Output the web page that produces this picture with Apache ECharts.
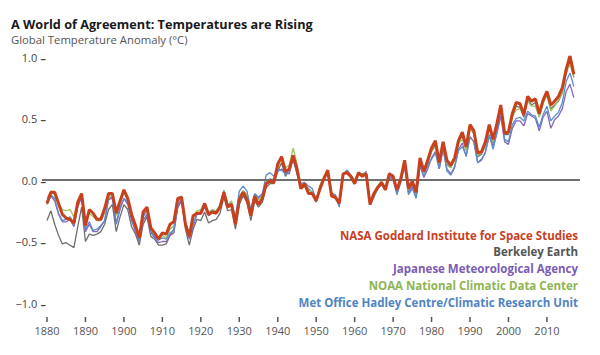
<!DOCTYPE html>
<html><head><meta charset="utf-8">
<script src="https://cdn.jsdelivr.net/npm/echarts@6/dist/echarts.min.js"></script>
<style>html,body{margin:0;padding:0;background:#fff}#c{width:600px;height:355px}</style>
</head><body><div id="c"></div>
<script>
var years = [];
for (var y = 1880; y <= 2017; y++) years.push(y);

var xTickLabels = [1880,1890,1900,1910,1920,1930,1940,1950,1960,1970,1980,1990,2000,2010];
var yTickLabels = [-1.0,-0.5,0.0,0.5,1.0];

var seriesNames = [
  "NASA Goddard Institute for Space Studies",
  "Berkeley Earth",
  "Japanese Meteorological Agency",
  "NOAA National Climatic Data Center",
  "Met Office Hadley Centre/Climatic Research Unit"
];

var nasa = [
-0.19,-0.10,-0.10,-0.19,-0.28,-0.31,-0.32,-0.35,-0.18,-0.11,
-0.37,-0.24,-0.27,-0.32,-0.32,-0.23,-0.11,-0.11,-0.27,-0.17,
-0.08,-0.15,-0.28,-0.37,-0.47,-0.26,-0.22,-0.39,-0.43,-0.48,
-0.43,-0.44,-0.36,-0.34,-0.15,-0.14,-0.36,-0.46,-0.29,-0.27,
-0.27,-0.19,-0.28,-0.26,-0.27,-0.22,-0.10,-0.22,-0.20,-0.36,
-0.16,-0.10,-0.16,-0.29,-0.13,-0.20,-0.15,-0.03,-0.01,-0.02,
0.13,0.19,0.07,0.09,0.20,0.09,-0.07,-0.03,-0.11,-0.11,
-0.17,-0.07,0.01,0.08,-0.13,-0.14,-0.19,0.05,0.06,0.03,
-0.03,0.06,0.03,0.05,-0.20,-0.11,-0.06,-0.02,-0.08,0.05,
0.03,-0.08,0.01,0.16,-0.07,-0.01,-0.10,0.18,0.07,0.16,
0.26,0.32,0.14,0.31,0.16,0.12,0.18,0.32,0.39,0.27,
0.45,0.40,0.22,0.23,0.31,0.45,0.33,0.46,0.61,0.38,
0.39,0.54,0.63,0.62,0.53,0.68,0.64,0.66,0.54,0.65,
0.72,0.61,0.64,0.68,0.75,0.90,1.01,0.86];

var berkeley = [
-0.33,-0.25,-0.36,-0.45,-0.52,-0.51,-0.53,-0.55,-0.38,-0.22,
-0.50,-0.44,-0.45,-0.44,-0.42,-0.36,-0.24,-0.20,-0.42,-0.30,
-0.20,-0.24,-0.38,-0.44,-0.53,-0.36,-0.30,-0.46,-0.48,-0.53,
-0.53,-0.52,-0.45,-0.40,-0.22,-0.17,-0.40,-0.53,-0.40,-0.32,
-0.33,-0.26,-0.35,-0.33,-0.32,-0.27,-0.14,-0.25,-0.24,-0.40,
-0.20,-0.13,-0.18,-0.33,-0.17,-0.22,-0.18,-0.06,-0.03,-0.03,
0.07,0.14,0.03,0.08,0.17,0.06,-0.07,-0.05,-0.10,-0.12,
-0.18,-0.05,0.01,0.07,-0.12,-0.15,-0.20,0.04,0.07,0.03,
-0.01,0.05,0.05,0.06,-0.19,-0.13,-0.07,-0.02,-0.08,0.04,
0.04,-0.09,0.02,0.15,-0.09,-0.02,-0.11,0.17,0.06,0.14,
0.24,0.28,0.12,0.30,0.13,0.10,0.17,0.31,0.36,0.25,
0.42,0.38,0.19,0.21,0.28,0.43,0.30,0.45,0.60,0.37,
0.37,0.52,0.60,0.59,0.51,0.66,0.61,0.63,0.52,0.63,
0.70,0.58,0.61,0.64,0.71,0.86,0.97,0.84];

var jma = [
-0.20,-0.13,-0.17,-0.28,-0.34,-0.34,-0.32,-0.38,-0.22,-0.14,
-0.42,-0.36,-0.42,-0.42,-0.38,-0.33,-0.16,-0.15,-0.36,-0.24,
-0.15,-0.20,-0.33,-0.42,-0.50,-0.33,-0.28,-0.43,-0.47,-0.51,
-0.50,-0.50,-0.45,-0.43,-0.22,-0.17,-0.36,-0.48,-0.37,-0.28,
-0.28,-0.22,-0.29,-0.26,-0.26,-0.22,-0.11,-0.21,-0.20,-0.32,
-0.14,-0.09,-0.12,-0.26,-0.12,-0.15,-0.13,-0.02,0.01,0.00,
0.07,0.09,0.06,0.05,0.17,0.05,-0.06,-0.04,-0.07,-0.10,
-0.16,-0.06,0.00,0.06,-0.11,-0.13,-0.18,0.04,0.07,0.02,
-0.02,0.05,0.03,0.07,-0.18,-0.12,-0.06,-0.03,-0.07,0.03,
0.01,-0.10,-0.01,0.13,-0.11,-0.05,-0.14,0.12,0.02,0.09,
0.18,0.23,0.09,0.25,0.09,0.05,0.11,0.25,0.30,0.19,
0.35,0.31,0.14,0.16,0.23,0.36,0.27,0.38,0.52,0.31,
0.29,0.42,0.48,0.48,0.44,0.54,0.52,0.50,0.40,0.51,
0.56,0.42,0.49,0.52,0.58,0.72,0.78,0.67];

var noaa = [
-0.15,-0.09,-0.12,-0.20,-0.24,-0.25,-0.24,-0.30,-0.18,-0.12,
-0.35,-0.27,-0.30,-0.33,-0.33,-0.27,-0.13,-0.13,-0.29,-0.19,
-0.10,-0.17,-0.29,-0.39,-0.47,-0.29,-0.24,-0.40,-0.45,-0.48,
-0.45,-0.47,-0.40,-0.37,-0.19,-0.13,-0.34,-0.43,-0.31,-0.25,
-0.24,-0.19,-0.26,-0.24,-0.25,-0.20,-0.08,-0.20,-0.17,-0.32,
-0.13,-0.09,-0.12,-0.26,-0.12,-0.16,-0.13,-0.01,0.00,0.01,
0.10,0.18,0.10,0.12,0.26,0.13,-0.04,-0.03,-0.08,-0.10,
-0.17,-0.04,0.03,0.08,-0.10,-0.13,-0.18,0.05,0.08,0.04,
0.00,0.06,0.04,0.06,-0.18,-0.11,-0.05,-0.01,-0.06,0.06,
0.02,-0.08,0.01,0.14,-0.08,-0.03,-0.11,0.15,0.06,0.13,
0.23,0.27,0.13,0.30,0.12,0.10,0.16,0.30,0.33,0.24,
0.42,0.38,0.20,0.22,0.29,0.42,0.31,0.47,0.61,0.38,
0.38,0.51,0.57,0.58,0.54,0.64,0.60,0.60,0.51,0.62,
0.69,0.56,0.60,0.65,0.71,0.88,0.94,0.83];

var hadcrut = [
-0.19,-0.12,-0.15,-0.27,-0.33,-0.32,-0.30,-0.36,-0.20,-0.12,
-0.40,-0.34,-0.41,-0.40,-0.37,-0.33,-0.15,-0.14,-0.35,-0.22,
-0.15,-0.18,-0.31,-0.40,-0.49,-0.30,-0.25,-0.42,-0.46,-0.49,
-0.47,-0.48,-0.43,-0.41,-0.20,-0.15,-0.35,-0.46,-0.36,-0.27,
-0.26,-0.20,-0.27,-0.25,-0.26,-0.21,-0.09,-0.20,-0.19,-0.30,
-0.09,-0.05,-0.09,-0.24,-0.11,-0.14,-0.11,0.04,0.06,0.03,
0.08,0.08,0.05,0.08,0.19,0.07,-0.03,-0.02,-0.05,-0.07,
-0.16,-0.05,0.02,0.05,-0.11,-0.12,-0.22,0.04,0.08,0.04,
-0.01,0.05,0.03,0.06,-0.20,-0.14,-0.07,-0.04,-0.08,0.02,
0.00,-0.12,-0.02,0.11,-0.12,-0.07,-0.15,0.12,0.03,0.12,
0.17,0.22,0.09,0.26,0.07,0.04,0.10,0.24,0.27,0.20,
0.35,0.31,0.14,0.17,0.22,0.37,0.25,0.39,0.57,0.33,
0.31,0.45,0.50,0.51,0.48,0.56,0.53,0.52,0.43,0.53,
0.60,0.48,0.52,0.55,0.63,0.80,0.87,0.76];

var allData = [nasa, berkeley, jma, noaa, hadcrut];
var lineColors = ['#c9401d', '#6e6e6e', '#8466ba', '#9cc15d', '#5a8dca'];
var textColors = ['#c8401f', '#555555', '#7c5cb4', '#8fb552', '#4f84c2'];
var drawOrder = [1, 2, 3, 4, 0];

function pairs(arr) { return years.map(function (yr, i) { return [yr, arr[i]]; }); }

var series = drawOrder.map(function (k) {
  return {
    name: seriesNames[k],
    type: 'line',
    data: pairs(allData[k]),
    showSymbol: false,
    symbol: 'none',
    z: k === 0 ? 10 : 3,
    lineStyle: { color: lineColors[k], width: k === 0 ? 3 : 1.3 },
    animation: false
  };
});
series.unshift({
  type: 'line', data: [], silent: true, animation: false,
  markLine: {
    symbol: ['none', 'none'], silent: true, label: { show: false },
    lineStyle: { color: '#6f6f6f', width: 2.2, type: 'solid' },
    data: [{ yAxis: 0 }]
  },
  z: 1
});

var legendGraphics = seriesNames.map(function (nm, i) {
  return {
    type: 'text', right: 22, top: 229 + i * 16.9,
    style: { text: nm, fill: textColors[i], font: 'bold 11.5px "Open Sans"', textAlign: 'right' }
  };
});

var chart = echarts.init(document.getElementById('c'), null, { renderer: 'svg' });
chart.setOption({
  backgroundColor: '#fff',
  animation: false,
  title: {
    text: 'A World of Agreement: Temperatures are Rising',
    subtext: 'Global Temperature Anomaly (°C)',
    left: 6, top: 12, itemGap: 4,
    textStyle: { fontFamily: 'Open Sans', fontSize: 12.7, fontWeight: 'bold', color: '#1a1a1a' },
    subtextStyle: { fontFamily: 'Open Sans', fontSize: 11.3, color: '#555' }
  },
  graphic: legendGraphics,
  grid: { left: 42, right: 20, top: 57, bottom: 52 },
  xAxis: {
    type: 'value', min: 1878.7, max: 2018.6,
    offset: 13,
    axisLine: { show: false },
    splitLine: { show: false },
    axisTick: { show: false },
    axisLabel: {
      customValues: xTickLabels, margin: 0,
      formatter: function (v) { return '{t| }\n{v|' + v + '}'; },
      rich: {
        t: { width: 1.5, height: 5, lineHeight: 7, fontSize: 1, backgroundColor: '#555', align: 'center' },
        v: { fontFamily: 'Open Sans', fontSize: 11, lineHeight: 14, color: '#555', align: 'center' }
      }
    }
  },
  yAxis: {
    type: 'value', min: -1, max: 1, interval: 0.5,
    axisLine: { show: false },
    splitLine: { show: false },
    axisTick: { show: false },
    axisLabel: { margin: -4, customValues: yTickLabels,
      formatter: function (v) { return '{v|' + (v < 0 ? '\u2212' : '') + Math.abs(v).toFixed(1) + '} {d|\u2013}'; },
      rich: {
        v: { fontFamily: 'Open Sans', fontSize: 11, color: '#444' },
        d: { fontFamily: 'Open Sans', fontSize: 11, fontWeight: 'bold', color: '#444' }
      }
    }
  },
  series: series
});
</script></body></html>
